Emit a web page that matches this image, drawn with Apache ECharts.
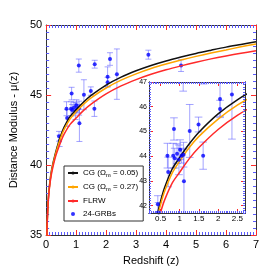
<!DOCTYPE html>
<html><head><meta charset="utf-8">
<script src="https://cdn.jsdelivr.net/npm/echarts@6/dist/echarts.min.js"></script>
<style>html,body{margin:0;padding:0;background:#fff}#c{width:277px;height:277px}</style>
</head><body><div id="c"></div>
<script>
// GRB data: redshift, distance modulus, error
const grbZ   = [0.43, 0.45, 0.68, 0.70, 0.83, 0.85, 0.87, 0.93, 0.98, 1.01, 1.05, 1.10, 1.11, 1.26, 1.49, 1.61, 2.05, 2.05, 2.36, 1.09, 1.62, 2.13, 3.41, 4.50];
const grbMu  = [42.05, 41.72, 44.02, 43.36, 44.02, 45.10, 43.92, 44.10, 43.85, 44.26, 44.02, 44.06, 42.98, 45.02, 45.28, 44.02, 46.31, 45.91, 46.49, 47.10, 47.20, 47.57, 47.88, 47.10];
const grbErr = [0.35, 0.40, 0.50, 0.60, 0.50, 0.45, 0.40, 0.40, 0.60, 0.40, 0.30, 0.50, 1.30, 1.07, 0.30, 0.55, 0.70, 0.35, 1.80, 0.47, 0.28, 0.45, 0.32, 0.42];

// model curves
const curveZ  = [0.02, 0.04, 0.07, 0.1, 0.15, 0.2, 0.3, 0.4, 0.5, 0.6, 0.8, 1.0, 1.25, 1.5, 2.0, 2.5, 3.0, 3.5, 4.0, 4.5, 5.0, 5.5, 6.0, 6.5, 7.0];
const cg005   = [34.62, 36.15, 37.5, 38.3, 39.2, 39.85, 40.75, 41.52, 42.17, 42.7, 43.47, 43.95, 44.5, 44.97, 45.71, 46.28, 46.73, 47.11, 47.43, 47.71, 47.97, 48.2, 48.42, 48.61, 48.8];
const cg027   = [34.61, 36.13, 37.47, 38.25, 39.13, 39.76, 40.66, 41.4, 42.03, 42.55, 43.3, 43.8, 44.35, 44.8, 45.5, 46.06, 46.51, 46.89, 47.21, 47.5, 47.76, 48.0, 48.22, 48.44, 48.64];
const flrw    = [34.6, 36.1, 37.4, 38.15, 39.0, 39.6, 40.5, 41.15, 41.72, 42.2, 42.9, 43.35, 43.9, 44.35, 45.08, 45.65, 46.1, 46.48, 46.8, 47.08, 47.34, 47.58, 47.79, 47.98, 48.16];

// tick labels
const mainXTicks = [0,1,2,3,4,5,6,7];
const mainYTicks = [35,40,45,50];
const insetXTicks = [0.5, 1, 1.5, 2, 2.5];
const insetYTicks = [42, 43, 44, 45, 46, 47];

const FONT = 'Liberation Sans, Arial, sans-serif';
const RED = '#ff2a2a', BLUE = '#5a5aff', FRAME = '#333';

function range(a, b, s){ const out=[]; for(let v=a; v<=b+1e-9; v+=s) out.push(Math.round(v*1000)/1000); return out; }
const insetXMinor = range(0.2, 2.7, 0.05);
const insetYMinor = range(41.7, 47, 0.1);

const pts = grbZ.map((z,i)=>[z, grbMu[i]]);
const errs = grbZ.map((z,i)=>[z, grbMu[i], grbErr[i]]);
const line = arr => curveZ.map((z,i)=>[z, arr[i]]);

function errRender(params, api){
  const x=api.value(0), y=api.value(1), e=api.value(2);
  const a=api.coord([x,y-e]), b=api.coord([x,y+e]);
  const l1=api.coord([x-0.1,y-e]), r1=api.coord([x+0.1,y-e]);
  const l2=api.coord([x-0.1,y+e]), r2=api.coord([x+0.1,y+e]);
  const st={stroke:'rgba(90,90,255,0.55)', lineWidth:1};
  const cs=params.coordSys;
  return {type:'group', clipPath:{type:'rect', shape:{x:cs.x, y:cs.y, width:cs.width, height:cs.height}}, children:[
    {type:'line', shape:{x1:a[0],y1:a[1],x2:b[0],y2:b[1]}, style:st},
    {type:'line', shape:{x1:l1[0],y1:l1[1],x2:r1[0],y2:r1[1]}, style:st},
    {type:'line', shape:{x1:l2[0],y1:l2[1],x2:r2[0],y2:r2[1]}, style:st}
  ]};
}

function mainAxis(pos, withLabel, extra){
  return Object.assign({
    type:'value', gridIndex:0, position:pos,
    axisLine:{show:true, onZero:false, lineStyle:{color:FRAME, width:1}},
    axisTick:{show:true, inside:true, length:5, lineStyle:{color:RED, width:1}},
    minorTick:{show:true, splitNumber:10, length:3, lineStyle:{color:BLUE, width:1}},
    splitLine:{show:false},
    axisLabel:{show:withLabel, fontSize:11, fontFamily:FONT, color:'#000', margin:4}
  }, extra);
}
function insetAxis(pos, min, max, vals, color, len, labels, fs){
  return {
    type:'value', gridIndex:1, position:pos, min:min, max:max, z:12,
    axisLine:{show:true, onZero:false, lineStyle:{color:FRAME, width:1}},
    axisTick:{show:true, inside:true, length:len, customValues:vals, lineStyle:{color:color, width:1}},
    minorTick:{show:false},
    splitLine:{show:false},
    axisLabel:{show:labels, customValues:vals, fontSize:fs||7, fontFamily:FONT, color:'#000', margin:2}
  };
}

const option = {
  animation:false,
  backgroundColor:'#fff',
  grid:[
    {left:32, top:25, width:224, height:210, show:false},
    {left:149, top:82, width:96, height:131, show:true, backgroundColor:'#fff', borderWidth:0, z:10}
  ],
  xAxis:[
    mainAxis('bottom',true,{min:0, max:7, interval:1, name:'Redshift (z)', nameLocation:'middle', nameGap:20,
      nameTextStyle:{fontSize:11, fontFamily:FONT, color:'#000'}}),
    mainAxis('top',false,{min:0, max:7, interval:1}),
    insetAxis('bottom',0.2,2.7,insetXTicks,RED,4,true,8),
    insetAxis('bottom',0.2,2.7,insetXMinor,BLUE,2,false),
    insetAxis('top',0.2,2.7,insetXTicks,RED,4,false),
    insetAxis('top',0.2,2.7,insetXMinor,BLUE,2,false)
  ],
  yAxis:[
    mainAxis('left',true,{min:35, max:50, interval:5, name:'Distance Modulus - μ(z)', nameLocation:'middle', nameGap:18,
      nameTextStyle:{fontSize:11, fontFamily:FONT, color:'#000'}}),
    mainAxis('right',false,{min:35, max:50, interval:5}),
    insetAxis('left',41.7,47,insetYTicks,RED,4,true,7),
    insetAxis('left',41.7,47,insetYMinor,BLUE,2,false),
    insetAxis('right',41.7,47,insetYTicks,RED,4,false),
    insetAxis('right',41.7,47,insetYMinor,BLUE,2,false)
  ],
  legend:{
    left:64, top:166, orient:'vertical', backgroundColor:'#fff',
    borderColor:'#333', borderWidth:1, borderRadius:0, padding:[3,5,3,3],
    itemGap:5, itemWidth:10, itemHeight:4,
    data:[{name:'cg05'},{name:'cg27'},{name:'flrw'},{name:'grb', icon:'circle'}],
    formatter:function(n){
      if(n==='cg05') return '{a|CG (Ω}{s|m}{a| = 0.05)}';
      if(n==='cg27') return '{a|CG (Ω}{s|m}{a| = 0.27)}';
      if(n==='flrw') return '{a|FLRW}';
      return '{a|24-GRBs}';
    },
    textStyle:{fontSize:8, fontFamily:FONT, color:'#000', rich:{a:{fontSize:8, fontFamily:FONT}, s:{fontSize:6, fontFamily:FONT, padding:[4,0,0,0]}}}
  },
  series:[
    {name:'cg05', type:'line', xAxisIndex:0, yAxisIndex:0, data:line(cg005), smooth:0.3, symbol:'none', lineStyle:{color:'#111', width:1.5}, itemStyle:{color:'#111'}},
    {name:'cg27', type:'line', xAxisIndex:0, yAxisIndex:0, data:line(cg027), smooth:0.3, symbol:'none', lineStyle:{color:'#ffa500', width:1.5}, itemStyle:{color:'#ffa500'}},
    {name:'flrw', type:'line', xAxisIndex:0, yAxisIndex:0, data:line(flrw), smooth:0.3, symbol:'none', lineStyle:{color:RED, width:1.5}, itemStyle:{color:RED}},
    {name:'errMain', type:'custom', xAxisIndex:0, yAxisIndex:0, data:errs, renderItem:errRender, encode:{x:0,y:1}, clip:true},
    {name:'grb', type:'scatter', xAxisIndex:0, yAxisIndex:0, data:pts, symbolSize:4, itemStyle:{color:'#0000ff'}},

    {name:'cg05', type:'line', xAxisIndex:2, yAxisIndex:2, data:line(cg005), smooth:0.3, symbol:'none', z:11, lineStyle:{color:'#111', width:1.5}, itemStyle:{color:'#111'}},
    {name:'cg27', type:'line', xAxisIndex:2, yAxisIndex:2, data:line(cg027), smooth:0.3, symbol:'none', z:11, lineStyle:{color:'#ffa500', width:1.5}, itemStyle:{color:'#ffa500'}},
    {name:'flrw', type:'line', xAxisIndex:2, yAxisIndex:2, data:line(flrw), smooth:0.3, symbol:'none', z:11, lineStyle:{color:RED, width:1.5}, itemStyle:{color:RED}},
    {name:'errInset', type:'custom', xAxisIndex:2, yAxisIndex:2, data:errs, renderItem:errRender, encode:{x:0,y:1}, clip:true, z:11},
    {name:'grb', type:'scatter', xAxisIndex:2, yAxisIndex:2, data:pts, symbolSize:4, z:11, itemStyle:{color:'#0000ff'}}
  ]
};
const chart = echarts.init(document.getElementById('c'), null, {renderer:'canvas'});
chart.setOption(option);
</script></body></html>
